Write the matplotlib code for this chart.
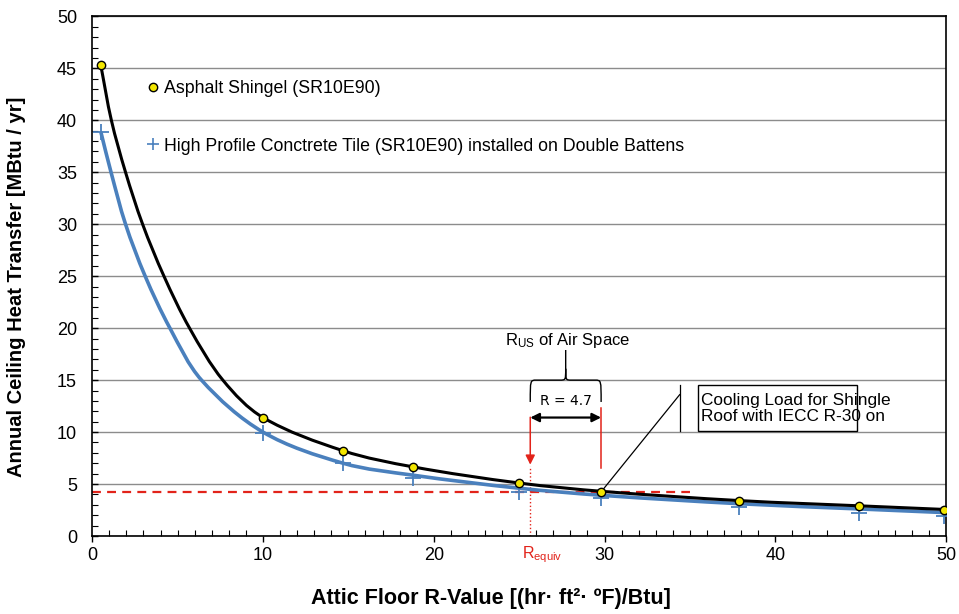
import numpy as np
import matplotlib
matplotlib.use('Agg')
import matplotlib.pyplot as plt
from matplotlib.path import Path
from matplotlib.patches import PathPatch, Rectangle
from matplotlib.lines import Line2D

plt.rcParams['font.family'] = ['Liberation Sans', 'DejaVu Sans']
plt.rcParams['mathtext.default'] = 'regular'

# Data points (markers) #
r_values = [0.5, 10, 14.7, 18.8, 25, 29.8, 37.9, 44.9, 49.9]
shingle_q = [45.3, 11.4, 8.2, 6.6, 5.07, 4.2, 3.37, 2.88, 2.5]
tile_q = [38.9, 9.9, 7.05, 5.6, 4.2, 3.65, 2.78, 2.2, 1.88]

# Smooth curves #
shingle_curve_x = [0.5, 1.12, 1.95, 2.95, 4.2, 5.7, 7.65, 10, 14.7, 18.8, 25, 30, 38, 45, 50]
shingle_curve_y = [45.3, 40, 35, 30, 25, 20, 15, 11.4, 8.2, 6.65, 5.1, 4.28, 3.4, 2.9, 2.55]
tile_curve_x = [0.5, 1.1, 1.95, 3.1, 4.55, 6.4, 10, 14.7, 18.8, 25, 30, 38, 45, 50]
tile_curve_y = [38.9, 35, 30, 25, 20, 15, 10, 7.0, 5.85, 4.6, 3.9, 3.1, 2.6, 2.25]

labels = ['Asphalt Shingel (SR10E90)',
          'High Profile Conctrete Tile (SR10E90) installed on Double Battens']

r_equiv = 25.65
r_us_end = 29.8
q_equiv = 4.2

def smooth_path(xs, ys, xscale=1.64):
    """ Chordal Catmull-Rom bezier through the points (like Excel smoothed lines) """
    pts = np.column_stack([xs, ys]).astype(float)
    n = len(pts)
    d = np.hypot(np.diff(pts[:, 0]) * xscale, np.diff(pts[:, 1]))
    t = np.concatenate([[0], np.cumsum(d)])
    tang = np.zeros_like(pts)
    tang[0] = (pts[1] - pts[0]) / (t[1] - t[0])
    tang[-1] = (pts[-1] - pts[-2]) / (t[-1] - t[-2])
    for i in range(1, n - 1):
        tang[i] = (pts[i + 1] - pts[i - 1]) / (t[i + 1] - t[i - 1])
    verts = [pts[0]]
    codes = [Path.MOVETO]
    for i in range(n - 1):
        dt = t[i + 1] - t[i]
        verts += [pts[i] + tang[i] * dt / 3., pts[i + 1] - tang[i + 1] * dt / 3., pts[i + 1]]
        codes += [Path.CURVE4] * 3
    return Path(verts, codes)

fig = plt.figure(figsize=(9.59, 6.14), dpi=100)
ax = fig.add_axes([0.0962, 0.127, 0.8903, 0.8463])

# Curves #
ax.add_patch(PathPatch(smooth_path(tile_curve_x, tile_curve_y), fill=False, ec='#4a80bd', lw=2.6, zorder=3))
ax.add_patch(PathPatch(smooth_path(shingle_curve_x, shingle_curve_y), fill=False, ec='black', lw=2.2, zorder=4))
ax.plot(r_values, tile_q, ls='none', marker='+', ms=11, mew=1.3, color='#4a80bd', zorder=5)
ax.plot(r_values, shingle_q, ls='none', marker='o', ms=6, mfc='#f2e600', mec='black', mew=1.0, zorder=6)

# Red guide lines #
ax.plot([0, 35], [q_equiv, q_equiv], color='#e2231a', lw=1.6, dashes=(4, 2.8), zorder=2)
ax.plot([r_equiv, r_equiv], [0, 6.7], color='#e2231a', lw=1.0, ls=':', zorder=2)
ax.annotate('', xy=(r_equiv, 6.6), xytext=(r_equiv, 11.7),
            arrowprops=dict(arrowstyle='-|>', color='#e2231a', lw=1.1, mutation_scale=14))
ax.plot([r_us_end, r_us_end], [6.5, 12.3], color='#e2231a', lw=1.1)

# R = 4.7 double arrow #
ax.annotate('', xy=(r_equiv, 11.4), xytext=(r_us_end, 11.4),
            arrowprops=dict(arrowstyle='<|-|>', color='black', lw=1.6, mutation_scale=13, shrinkA=0, shrinkB=0))
ax.text((r_equiv + r_us_end) / 2, 13.0, 'R = 4.7', ha='center', va='center', fontsize=10,
        family='DejaVu Sans')

# Brace #
x1, x2 = r_equiv, r_us_end
xm = (x1 + x2) / 2
yb, yt, ym, ytip = 12.9, 15.0, 16.1, 17.9
brace = Path([(x1, yb), (x1, yt), (x1, yt), (x1 + 0.35, yt),
              (xm - 0.35, yt), (xm, yt), (xm, yt), (xm, ym),
              (xm, ytip),
              (xm, ym), (xm, yt), (xm, yt), (xm + 0.35, yt),
              (x2 - 0.35, yt), (x2, yt), (x2, yt), (x2, yb)],
             [Path.MOVETO, Path.CURVE4, Path.CURVE4, Path.CURVE4,
              Path.LINETO, Path.CURVE4, Path.CURVE4, Path.CURVE4,
              Path.LINETO,
              Path.MOVETO, Path.CURVE4, Path.CURVE4, Path.CURVE4,
              Path.LINETO, Path.CURVE4, Path.CURVE4, Path.CURVE4])
ax.add_patch(PathPatch(brace, fill=False, ec='black', lw=1.0))
ax.text(xm + 0.1, 18.85, 'R$_{US}$ of Air Space', ha='center', va='center', fontsize=12)

# Callout #
ax.plot([29.8, 34.4], [4.25, 13.6], color='black', lw=0.9)
ax.plot([34.4, 34.4], [10.1, 14.5], color='black', lw=0.9)
ax.add_patch(Rectangle((35.5, 10.1), 9.3, 4.4, fill=False, ec='black', lw=1.0, zorder=5))
ax.text(35.62, 12.3, 'Cooling Load for Shingle\nRoof with IECC R-30 on', ha='left', va='center',
        fontsize=12.4, linespacing=1.1, zorder=6)

# R_equiv label #
ax.text(r_equiv + 0.7, -1.75, 'R$_{equiv}$', color='#e2231a', ha='center', va='center', fontsize=11.5,
        clip_on=False)

# Legend #
handles = [Line2D([], [], ls='none', marker='o', ms=6, mfc='#f2e600', mec='black', mew=1.0),
           Line2D([], [], ls='none', marker='+', ms=9, mew=1.2, color='#4a80bd')]
ax.legend(handles, labels, loc='upper left', bbox_to_anchor=(0.066, 0.878), frameon=False,
          fontsize=12.8, handlelength=0.55, handletextpad=0.3, labelspacing=2.3, borderpad=0,
          borderaxespad=0)

# Axes #
ax.set_xlim(0, 50)
ax.set_ylim(0, 50)
ax.set_xticks(np.arange(0, 51, 10))
ax.set_yticks(np.arange(0, 51, 5))
ax.set_xticks(np.arange(0, 51, 1), minor=True)
ax.set_yticks(np.arange(0, 51, 1), minor=True)
ax.tick_params(axis='both', which='major', labelsize=13, width=1)
ax.tick_params(axis='x', which='major', direction='out', length=4, pad=4)
ax.tick_params(axis='y', which='major', direction='in', length=4, pad=11)
ax.tick_params(axis='both', which='minor', direction='in', length=4, width=0.8)
ax.grid(axis='y', which='major', color='#8c8c8c', lw=1.0)
ax.set_axisbelow(True)
for s in ax.spines.values():
    s.set_linewidth(1.2)

ax.set_xlabel('Attic Floor R-Value [(hr· ft²· ºF)/Btu]', fontsize=15.5, fontweight='bold')
ax.set_ylabel('Annual Ceiling Heat Transfer [MBtu / yr]', fontsize=14.5, fontweight='bold')
ax.xaxis.set_label_coords(0.467, -0.1)
ax.yaxis.set_label_coords(-0.078, 0.48)

fig.savefig('out.png', dpi=100)
